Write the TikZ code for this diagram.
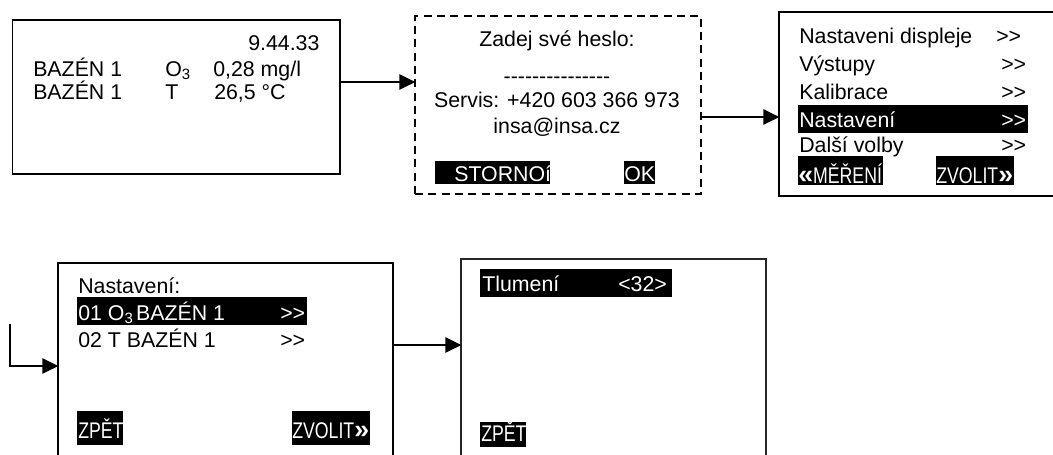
\documentclass[tikz,border=0pt]{standalone}
\usepackage{fontspec}
\usepackage{graphicx}
\setmainfont{Liberation Sans}[Ligatures=TeXOff]
\usetikzlibrary{arrows.meta}
\newcommand{\cond}[1]{\scalebox{.83}[1.06]{#1}}
\newcommand{\guil}[1]{{\fontsize{20pt}{20pt}\selectfont\bfseries #1}}
\tikzset{
  x=0.75pt,y=-0.75pt,
  screen/.style={draw=black,line width=1.4pt,fill=white,inner sep=0pt,anchor=north west},
  dashedscreen/.style={screen,dash pattern=on 6pt off 4pt},
  txt/.style={anchor=base west,inner sep=0pt,font=\fontsize{16pt}{18pt}\selectfont,text=black},
  mid/.style={txt,anchor=base},
  inv/.style={txt,text=white},
  barfill/.style={fill=black},
  link/.style={draw=black,line width=1.4pt,-{Triangle[length=12pt,width=11.5pt]},shorten >=-1pt},
}
\begin{document}
\begin{tikzpicture}
\clip (0,0) rectangle (1053,454);
\fill[white] (0,0) rectangle (1053,454);
% screens
\node[screen,minimum width=245.5pt,minimum height=115.5pt] (s1) at (11.5,19) {};
\node[dashedscreen,minimum width=214.5pt,minimum height=133.5pt] (s2) at (414,15) {};
\node[screen,minimum width=225pt,minimum height=138pt] (s3) at (778,11) {};
\node[screen,minimum width=251.25pt,minimum height=180pt] (s4) at (57,262) {};
\node[screen,line width=1.3pt,draw=black!85,minimum width=228.75pt,minimum height=180pt] (s5) at (460,258) {};
% connectors
\coordinate (c1) at (0,82);
\coordinate (c2) at (0,117);
\coordinate (c3) at (10,324);
\coordinate (c4) at (10,366);
\coordinate (c5) at (0,345);
\draw[link] (s1.east |- c1) -- (s2.west |- c1);
\draw[link] (s2.east |- c2) -- (s3.west |- c2);
\draw[link] (c3) -- (c4) -- (s4.west |- c4);
\draw[link] (s4.east |- c5) -- (s5.west |- c5);
% screen 1
\node[txt] (a0) at (248,50) {9.44.33};
\node[txt] (a1) at (33,76) {BAZÉN 1};
\node[txt] (a2) at (165,76) {O\textsubscript{3}};
\node[txt] (a3) at (213,76) {0,28 mg/l};
\node[txt] (a4) at (33,99) {BAZÉN 1};
\node[txt] (a5) at (165,99) {T};
\node[txt] (a6) at (214,99) {26,5 °C};
% screen 2
\node[mid] (b1) at (557,46) {Zadej své heslo:};
\node[mid] (b2) at (557,83) {---------------};
\node[mid] (b3) at (557,107) {Servis: +420 603 366 973};
\node[mid] (b4) at (557,133) {insa@insa.cz};
\fill[barfill] (435,161) rectangle (550,184);
\fill[barfill] (624,161) rectangle (655,184);
\node[inv] (b5) at (454,181) {STORNOí};
\node[inv] (b6) at (624,181) {OK};
% screen 3
\fill[barfill] (798,105) rectangle (1028,133);
\fill[barfill] (798,156) rectangle (883,185);
\fill[barfill] (936,156) rectangle (1014,185);
\node[txt] (c11) at (799,43) {Nastaveni displeje};
\node[txt] (c12) at (996,43) {>>};
\node[txt] (c21) at (799,71) {Výstupy};
\node[txt] (c22) at (1001,71) {>>};
\node[txt] (c31) at (799,99) {Kalibrace};
\node[txt] (c32) at (1001,99) {>>};
\node[inv] (c41) at (799,127) {Nastavení};
\node[inv] (c42) at (1001,127) {>>};
\node[txt] (c51) at (799,152) {Další volby};
\node[txt] (c52) at (1001,152) {>>};
\node[inv] (c61) at (798,183) {\guil{«}\cond{MĚŘENÍ}};
\node[inv] (c62) at (936,183) {\cond{ZVOLIT}\guil{»}};
% screen 4
\fill[barfill] (77,297) rectangle (307,325);
\fill[barfill] (77,411) rectangle (123,445);
\fill[barfill] (292,411) rectangle (370,445);
\node[txt] (d1) at (78,293) {Nastavení:};
\node[inv] (d2) at (78,320) {01 O\textsubscript{3}\kern-2.5pt{} BAZÉN 1};
\node[inv] (d3) at (280,320) {>>};
\node[txt] (d4) at (78,347) {02 T BAZÉN 1};
\node[txt] (d5) at (280,347) {>>};
\node[inv] (d6) at (78,438) {\cond{ZPĚT}};
\node[inv] (d7) at (292,438) {\cond{ZVOLIT}\guil{»}};
% screen 5
\fill[barfill] (480,269) rectangle (672,297);
\fill[barfill] (480,422) rectangle (526,447);
\node[inv] (e1) at (482,291) {Tlumení};
\node[inv] (e2) at (618,291) {<32>};
\node[inv] (e3) at (481,441) {\cond{ZPĚT}};
\end{tikzpicture}
\end{document}
